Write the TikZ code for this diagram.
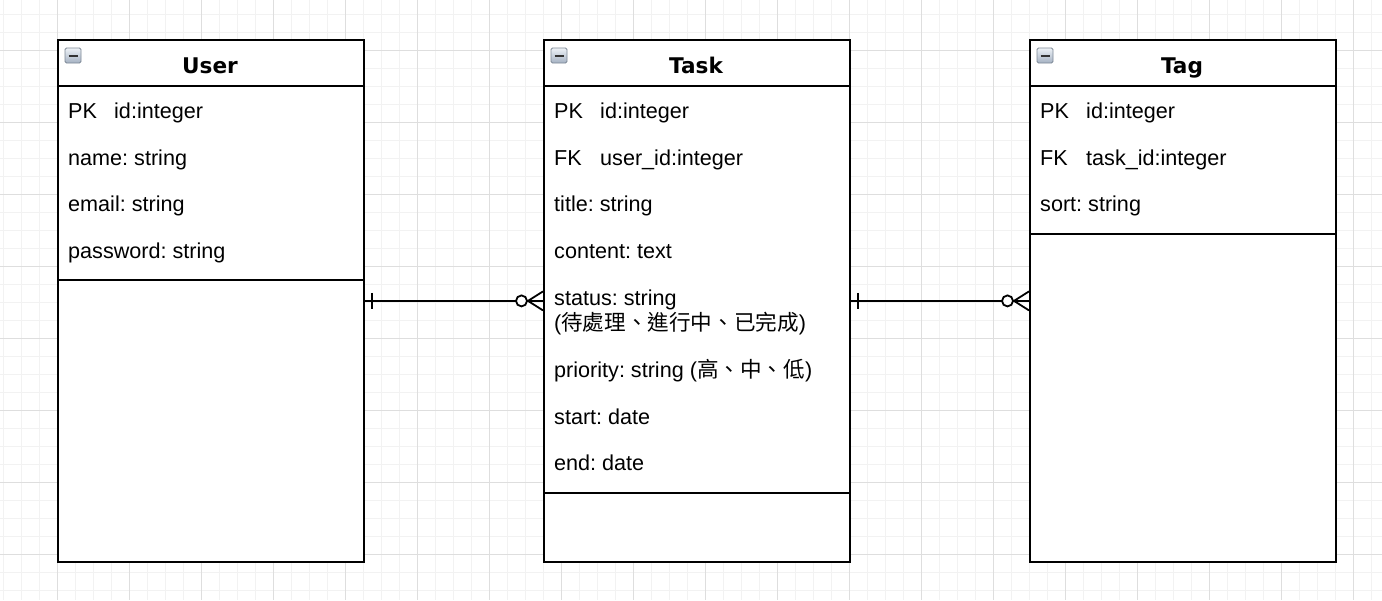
\documentclass[tikz,border=0pt]{standalone}
\usepackage{fontspec}
\setmainfont{Liberation Sans}
\newfontfamily\titlefont{DejaVu Sans}
\newfontfamily\cjk{Noto Sans CJK TC}
\usetikzlibrary{calc}
\frenchspacing
\definecolor{gridminor}{HTML}{F2F2F2}
\definecolor{gridmajor}{HTML}{DEDEDE}
\definecolor{icontop}{HTML}{EEF2F7}
\definecolor{iconbot}{HTML}{A4B1C2}
\definecolor{iconedge}{HTML}{7D8896}
\begin{document}
\begin{tikzpicture}[x=1pt,y=-1pt,
  entity/.style={draw=black, line width=1.8pt, fill=white, rectangle, inner sep=0pt,
    minimum width=306pt, minimum height=522pt, anchor=north west},
  sep/.style={draw=black, line width=1.8pt},
  etitle/.style={font=\titlefont\bfseries\fontsize{21.6}{26}\selectfont, inner sep=0pt, anchor=base},
  attr/.style={font=\fontsize{21.6}{25}\selectfont\frenchspacing, inner sep=0pt, anchor=base west},
  conn/.style={draw=black, line width=1.8pt},
  icon/.style={draw=iconedge, line width=0.8pt, rounded corners=1.5pt, top color=icontop, bottom color=iconbot}
]
\useasboundingbox (0,0) rectangle (1382,600);
\fill[white] (0,0) rectangle (1382,600);
% grid
\foreach \i in {0,...,76} {\draw[gridminor, line width=1pt] (3+18*\i,0) -- (3+18*\i,600);}
\foreach \j in {0,...,32} {\draw[gridminor, line width=1pt] (0,14+18*\j) -- (1382,14+18*\j);}
\foreach \i in {0,...,18} {\draw[gridmajor, line width=1pt] (57+72*\i,0) -- (57+72*\i,600);}
\foreach \j in {0,...,7} {\draw[gridmajor, line width=1pt] (0,50+72*\j) -- (1382,50+72*\j);}

% entities
\node[entity] (user) at (57,39) {};
\node[entity] (task) at (543,39) {};
\node[entity] (tag) at (1029,39) {};

\foreach \e in {user,task,tag} {
  \draw[sep] ($(\e.north west)+(0,47)$) -- ($(\e.north east)+(0,47)$);
  \draw[icon] ($(\e.north west)+(8,9)$) rectangle ($(\e.north west)+(24,24)$);
  \draw[black!80, line width=2pt] ($(\e.north west)+(11.5,16.5)$) -- ($(\e.north west)+(20.5,16.5)$);
}
\draw[sep] ($(user.north west)+(0,241)$) -- ($(user.north east)+(0,241)$);
\draw[sep] ($(task.north west)+(0,454)$) -- ($(task.north east)+(0,454)$);
\draw[sep] ($(tag.north west)+(0,195)$) -- ($(tag.north east)+(0,195)$);

% titles
\node[etitle] (usert) at (210,73.3) {User};
\node[etitle] (taskt) at (696,73.3) {Task};
\node[etitle] (tagt) at (1182,73.3) {Tag};

% User attributes
\node[attr] (u1k) at (68,118.3) {PK};
\node[attr] (u1) at (114,118.3) {id:integer};
\node[attr] (u2) at (68,165.1) {name: string};
\node[attr] (u3) at (68,211.9) {email: string};
\node[attr] (u4) at (68,258.7) {password: string};

% Task attributes
\node[attr] (t1k) at (554,118.3) {PK};
\node[attr] (t1) at (600,118.3) {id:integer};
\node[attr] (t2k) at (554,165.1) {FK};
\node[attr] (t2) at (600,165.1) {user\_id:integer};
\node[attr] (t3) at (554,211.9) {title: string};
\node[attr] (t4) at (554,258.7) {content: text};
\node[attr] (t5a) at (554,305.6) {status: string};
\node[attr] (t5b) at (554,330.6) {(\cjk 待處理、進行中、已完成\rmfamily)};
\node[attr] (t6) at (554,377.3) {priority: string (\cjk 高、中、低\rmfamily)};
\node[attr] (t7) at (554,424.1) {start: date};
\node[attr] (t8) at (554,470.9) {end: date};

% Tag attributes
\node[attr] (g1k) at (1040,118.3) {PK};
\node[attr] (g1) at (1086,118.3) {id:integer};
\node[attr] (g2k) at (1040,165.1) {FK};
\node[attr] (g2) at (1086,165.1) {task\_id:integer};
\node[attr] (g3) at (1040,211.9) {sort: string};

% connectors
\foreach \a/\b in {user/task, task/tag} {
  \draw[conn] (\a.east) -- (\b.west);
  \draw[conn] ($(\a.east)+(7,-8)$) -- ($(\a.east)+(7,8)$);
  \draw[conn, fill=white] ($(\b.west)+(-21.5,0)$) circle (5.5);
  \draw[conn] ($(\b.west)+(-15,0)$) -- ($(\b.west)+(0,-9.5)$);
  \draw[conn] ($(\b.west)+(-15,0)$) -- ($(\b.west)+(0,9.5)$);
}
\end{tikzpicture}
\end{document}
